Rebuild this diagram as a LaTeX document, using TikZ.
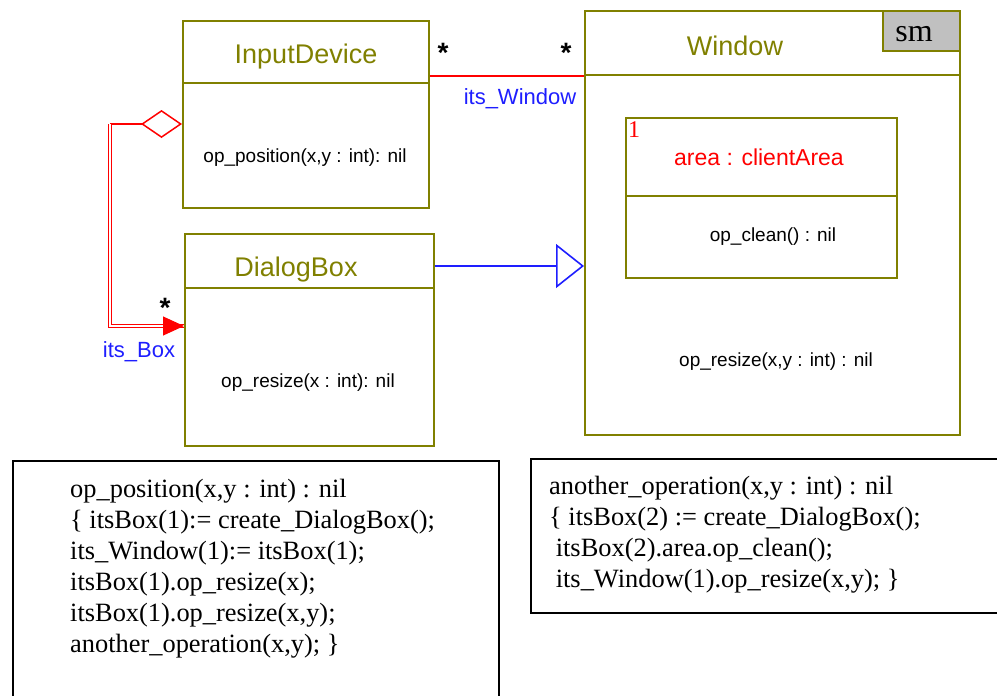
\documentclass[tikz,border=0pt]{standalone}
\usepackage{fontspec}
\setmainfont{Liberation Sans}
\newfontfamily\codefont{Liberation Serif}
\usetikzlibrary{arrows.meta}

\definecolor{umlolive}{RGB}{128,128,0}
\definecolor{umlred}{RGB}{255,0,0}
\definecolor{umlblue}{RGB}{30,30,255}
\definecolor{umlgray}{RGB}{192,192,192}

\tikzset{
  classbox/.style={draw=umlolive, line width=1.8pt, anchor=north west, inner sep=0pt},
  compartment/.style={draw=umlolive, line width=1.8pt},
  classname/.style={text=umlolive, font=\fontsize{27}{30}\selectfont},
  operation/.style={font=\fontsize{19}{22}\selectfont},
  rolename/.style={text=umlblue, font=\fontsize{22}{24}\selectfont},
  multi/.style={font=\bfseries\fontsize{28}{28}\selectfont, inner sep=0pt},
  codebox/.style={draw, line width=1.5pt, anchor=north west, inner sep=0pt},
  codetext/.style={anchor=north west, align=left, inner sep=0pt,
    font=\codefont\fontsize{26.4}{31}\selectfont},
}

\begin{document}
\begin{tikzpicture}[x=1pt,y=-1pt]
    \useasboundingbox (0,0) rectangle (997,696);
    % draw the class boxes
    \node[classbox, minimum width=246pt, minimum height=187pt] (input) at (182,20) {};
    \node[classbox, minimum width=249pt, minimum height=212pt] (dialog) at (184,233) {};
    \node[classbox, minimum width=375pt, minimum height=424pt] (window) at (584,10) {};
    \node[classbox, minimum width=271pt, minimum height=160pt] (area) at (625,117) {};
    \node[classbox, fill=umlgray, minimum width=77pt, minimum height=40pt] (sm) at (882,10) {};
    \node[font=\codefont\fontsize{32}{32}\selectfont] (smlabel) at (914,34) {sm};
    % draw the compartment lines
    \draw[compartment] (input.north west) ++(0,63) -- ++(246,0);
    \draw[compartment] (dialog.north west) ++(0,55) -- ++(249,0);
    \draw[compartment] (window.north west) ++(0,65) -- ++(375,0);
    \draw[compartment] (area.north west) ++(0,79) -- ++(271,0);
    % names and operations
    \node[classname] (inputname) at (306,57) {InputDevice};
    \node[operation] (inputop) at (305,158) {op\_position(x,y : int): nil};
    \node[classname] (dialogname) at (296,270) {DialogBox};
    \node[operation] (dialogop) at (308,383) {op\_resize(x : int): nil};
    \node[classname] (windowname) at (735,46) {Window};
    \node[operation] (windowop) at (776,362) {op\_resize(x,y : int) : nil};
    \node[text=umlred, font=\fontsize{23}{24}\selectfont] (areaname) at (759,157) {area : clientArea};
    \node[text=umlred, font=\codefont\fontsize{24}{24}\selectfont, inner sep=0pt] (areamult) at (634,130) {1};
    \node[operation] (areaop) at (773,237) {op\_clean() : nil};

    % association
    \coordinate (assoc) at (0,76);
    \draw[umlred, line width=1.6pt] (input.east |- assoc) -- (window.west |- assoc);
    \node[multi] (inputstar) at (443,53) {*};
    \node[multi] (windowstar) at (566,53) {*};
    \node[rolename] (itswindow) at (520,99) {its\_Window};

    % aggregation
    \coordinate (aggtop) at (110,124);
    \coordinate (aggbottom) at (110,326);
    \draw[umlred, line width=1.5pt, {Diamond[open, length=41pt, width=28pt]}-] (input.west |- aggtop) -- (aggtop);
    \draw[umlred, line width=1pt, double, double distance=1.4pt] (aggtop) -- (aggbottom) -- (dialog.west |- aggbottom);
    \draw[umlred, line width=1pt, shorten <=60pt, -{Triangle[length=21pt, width=19pt]}] (aggbottom) -- (dialog.west |- aggbottom);
    \node[multi] (boxstar) at (165,308) {*};
    \node[rolename] (itsbox) at (139,352) {its\_Box};

    % generalization
    \coordinate (gen) at (0,266);
    \draw[umlblue, line width=1.6pt, -{Triangle[open, length=28pt, width=44pt]}] (dialog.east |- gen) -- (window.west |- gen);

    % code boxes
    \node[codebox, minimum width=486pt, minimum height=250pt] (leftbox) at (12,460) {};
    \node[codetext] (leftcode) at (70,479) {op\_position(x,y : int) : nil\\
      \{ itsBox(1):= create\_DialogBox();\\
      its\_Window(1):= itsBox(1);\\
      itsBox(1).op\_resize(x);\\
      itsBox(1).op\_resize(x,y);\\
      another\_operation(x,y); \}};
    \node[codebox, minimum width=480pt, minimum height=154pt] (rightbox) at (530,458) {};
    \node[codetext] (rightcode) at (549,476) {another\_operation(x,y : int) : nil\\
      \{ itsBox(2) := create\_DialogBox();\\
      \hspace{0.25em}itsBox(2).area.op\_clean();\\
      \hspace{0.25em}its\_Window(1).op\_resize(x,y); \}};
\end{tikzpicture}
\end{document}
